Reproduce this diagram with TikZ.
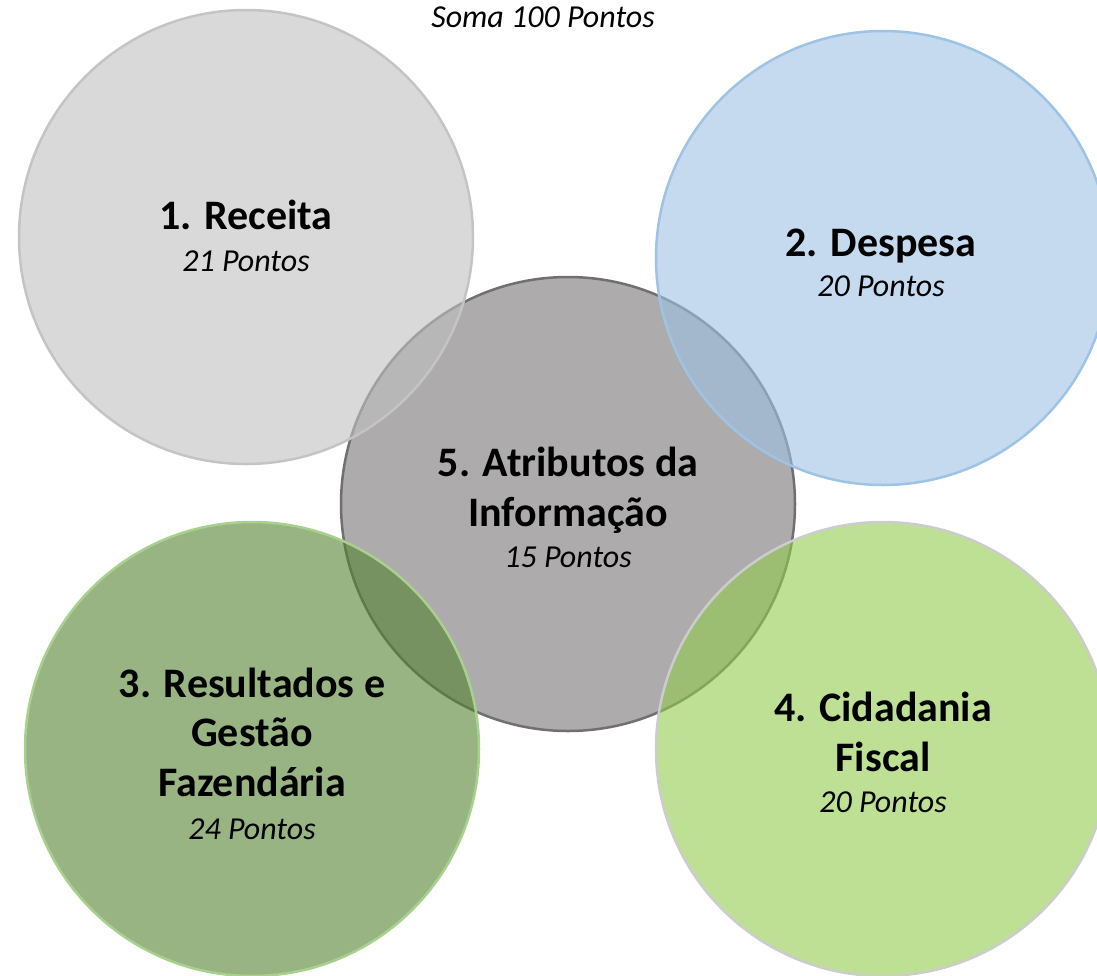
\documentclass[tikz,border=0pt]{standalone}
\usepackage{fontspec}
\setmainfont{Carlito}
\definecolor{cfivefill}{RGB}{173,171,171}
\definecolor{cfiveedge}{RGB}{112,112,112}
\definecolor{conefill}{RGB}{192,192,192}
\definecolor{coneedge}{RGB}{196,196,196}
\definecolor{ctwofill}{RGB}{158,193,228}
\definecolor{ctwoedge}{RGB}{157,195,230}
\definecolor{cthreefill}{RGB}{83,130,48}
\definecolor{cthreeedge}{RGB}{169,209,142}
\definecolor{cfourfill}{RGB}{145,203,78}
\definecolor{cfouredge}{RGB}{204,204,204}
\tikzset{
  bubble/.style={circle, minimum size=454pt, inner sep=0pt, line width=2.5pt, fill opacity=0.6},
  head/.style={anchor=base, font=\fontsize{42}{48}\selectfont\bfseries, inner sep=0pt},
  pts/.style={anchor=base, font=\fontsize{32}{36}\selectfont\itshape, inner sep=0pt},
}
\begin{document}
\begin{tikzpicture}[x=1pt,y=-1pt]
\useasboundingbox (0,0) rectangle (1097,975);
\clip (0,0) rectangle (1097,975);
% central circle (opaque)
\node[circle, minimum size=454pt, inner sep=0pt, line width=2.5pt, fill=cfivefill, draw=cfiveedge] (c5) at (568,504) {};
% outer circles, translucent
\node[bubble, fill=conefill, draw=coneedge] (c1) at (246,237) {};
\node[bubble, fill=ctwofill, draw=ctwoedge] (c2) at (883,258) {};
\node[bubble, fill=cthreefill, draw=cthreeedge] (c3) at (252,749) {};
\node[bubble, fill=cfourfill, draw=cfouredge] (c4) at (883,749) {};
% title
\node[pts] (title) at (543,27) {Soma 100 Pontos};
% 1
\node[head] (t1a) at (246,229) {1. Receita};
\node[pts] (t1b) at (246,271) {21 Pontos};
% 2
\node[head] (t2a) at (881,256) {2. Despesa};
\node[pts] (t2b) at (881,296) {20 Pontos};
% 5
\node[head] (t5a) at (568,476) {5. Atributos da};
\node[head] (t5b) at (568,526) {Informação};
\node[pts] (t5c) at (568,567) {15 Pontos};
% 3
\node[head] (t3a) at (252,697) {3. Resultados e};
\node[head] (t3b) at (252,746) {Gestão};
\node[head] (t3c) at (252,796) {Fazendária};
\node[pts] (t3d) at (252,839) {24 Pontos};
% 4
\node[head] (t4a) at (883,721) {4. Cidadania};
\node[head] (t4b) at (883,771) {Fiscal};
\node[pts] (t4c) at (883,812) {20 Pontos};
\end{tikzpicture}
\end{document}
